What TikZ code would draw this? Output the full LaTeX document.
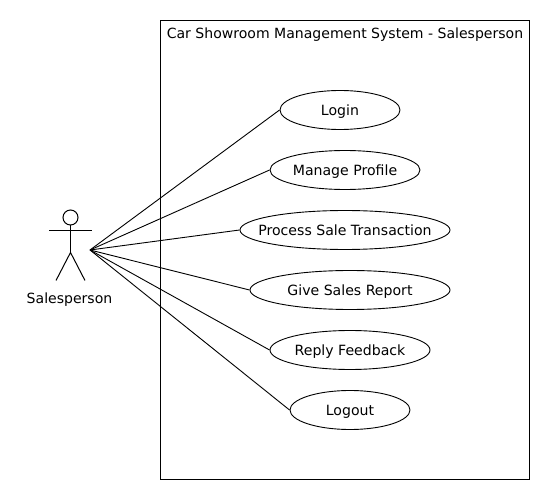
\documentclass[tikz,border=0pt]{standalone}
\usepackage{fontspec}
\setmainfont{DejaVu Sans}
\usetikzlibrary{positioning,shapes.geometric}
\definecolor{Ink}{HTML}{000000}
\tikzset{
  usecase/.style={draw=Ink,fill=white,ellipse,inner xsep=-20pt,inner ysep=0pt,minimum height=39pt,text height=13pt,text depth=1pt,font=\fontsize{14.1}{16}\selectfont,text=Ink,line width=0.9pt},
  sysbox/.style={draw=Ink,line width=1.1pt,minimum width=369pt,minimum height=459pt,inner sep=0pt},
  sysname/.style={font=\fontsize{14.05}{16}\selectfont,text=Ink,inner sep=0pt,text height=13pt,text depth=1pt},
  actorhead/.style={draw=Ink,circle,line width=1pt,minimum size=15pt,inner sep=0pt},
  actorline/.style={draw=Ink,line width=1pt},
  assoc/.style={draw=Ink,line width=0.9pt}
}
\begin{document}
\begin{tikzpicture}[x=1pt,y=-1pt]
  \useasboundingbox (0,0) rectangle (550,500);
  % system boundary
  \node[sysbox] (system) at (344.75,250) {};
  \node[sysname] (systemname) at (345,33) {Car Showroom Management System - Salesperson};
  % actor
  \node[actorhead] (head) at (70.5,217.5) {};
  \coordinate (armL) at (49,231);
  \coordinate (armR) at (92,231);
  \coordinate (hip) at (70.5,252.5);
  \coordinate (footL) at (56,280.5);
  \coordinate (footR) at (85,280.5);
  \coordinate (salesperson) at (90,250);
  \draw[actorline] (head.south) -- (hip);
  \draw[actorline] (armL) -- (armR);
  \draw[actorline] (footL) -- (hip) -- (footR);
  \node[sysname] (actorname) at (69.5,298) {Salesperson};
  % use cases
  \node[usecase,minimum width=120pt] (login) at (340,110) {Login};
  \node[usecase,minimum width=150pt] (profile) at (345,170) {Manage Profile};
  \node[usecase,minimum width=210pt] (sale) at (345,230) {Process Sale Transaction};
  \node[usecase,minimum width=200pt] (report) at (350,290) {Give Sales Report};
  \node[usecase,minimum width=160pt] (feedback) at (350,350) {Reply Feedback};
  \node[usecase,minimum width=120pt] (logout) at (350,410) {Logout};
  \foreach \uc in {login,profile,sale,report,feedback,logout}
    \draw[assoc] (salesperson) -- (\uc.west);
\end{tikzpicture}
\end{document}
